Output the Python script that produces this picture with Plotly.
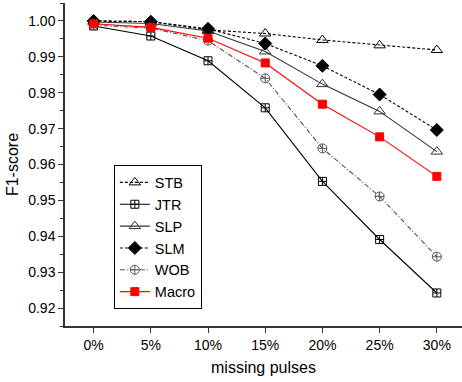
import plotly.graph_objects as go

categories = ["0%", "5%", "10%", "15%", "20%", "25%", "30%"]
stb = [1.0000, 0.9998, 0.9975, 0.9965, 0.9947, 0.9932, 0.9919]
jtr = [0.9986, 0.9958, 0.9889, 0.9758, 0.9553, 0.9391, 0.9242]
slp = [0.9997, 0.9993, 0.9972, 0.9915, 0.9824, 0.9748, 0.9636]
slm = [1.0000, 0.9998, 0.9978, 0.9937, 0.9875, 0.9795, 0.9696]
wob = [0.9988, 0.9980, 0.9945, 0.9840, 0.9645, 0.9511, 0.9343]
macro = [0.9992, 0.9982, 0.9952, 0.9883, 0.9768, 0.9677, 0.9567]
yticks = [0.92, 0.93, 0.94, 0.95, 0.96, 0.97, 0.98, 0.99, 1.00]

series = [
    ("STB", stb, "black", "3px,2px", "triangle-up-open", 10),
    ("JTR", jtr, "black", "solid", "square-cross-open", 8),
    ("SLP", slp, "#333333", "solid", "triangle-up-open", 10),
    ("SLM", slm, "black", "3px,2px", "diamond", 10),
    ("WOB", wob, "#555555", "5px,2px,1px,2px", "circle-cross-open", 9),
    ("Macro", macro, "red", "solid", "square", 8),
]

fig = go.Figure()
for name, vals, col, dash, sym, size in series:
    fig.add_trace(go.Scatter(
        x=categories, y=vals, name=name, mode="lines+markers",
        line=dict(color=col, width=1.1, dash=dash),
        marker=dict(symbol=sym, size=size, color=col,
                    line=dict(color=col, width=1)),
    ))

fig.update_layout(
    width=462, height=382,
    margin=dict(l=65, r=0, t=3, b=56),
    plot_bgcolor="white", paper_bgcolor="white",
    font=dict(family="Liberation Sans, Arial, sans-serif", size=14, color="black"),
    legend=dict(x=0.123, y=0.497, xanchor="left", yanchor="top",
                bordercolor="black", borderwidth=1, bgcolor="white",
                font=dict(size=14.5), tracegroupgap=0, itemwidth=30),
)
fig.update_xaxes(
    type="category", range=[-0.5, 6.44],
    showline=True, linecolor="#333333", linewidth=1.5,
    ticks="outside", ticklen=5, tickcolor="#333333", showgrid=False,
    title=dict(text="missing pulses", font=dict(size=16), standoff=10),
)
fig.update_yaxes(
    range=[0.915, 1.005], tickvals=yticks, tickformat=".2f",
    showline=True, linecolor="#333333", linewidth=1.5,
    ticks="outside", ticklen=5, tickcolor="#333333", showgrid=False,
    minor=dict(dtick=0.005, tick0=0.915, ticks="outside", ticklen=3, tickcolor="#333333"),
    title=dict(text="F1-score", font=dict(size=16), standoff=6),
)
fig.write_html("out.html")
